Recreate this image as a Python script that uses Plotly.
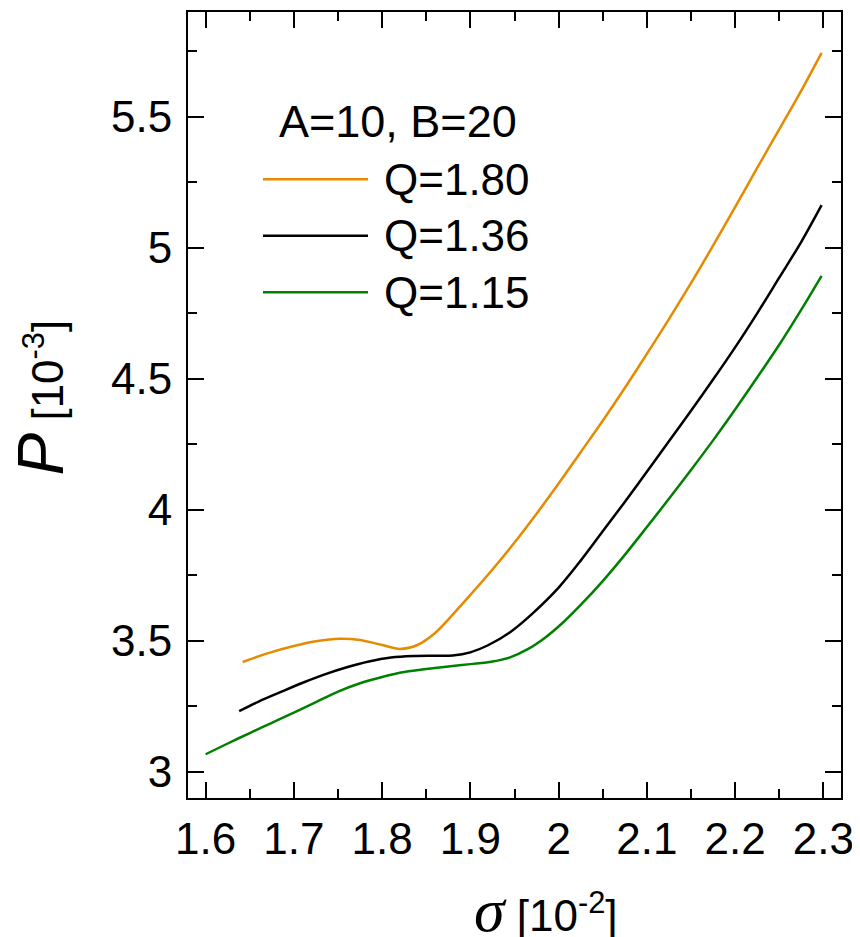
import plotly.graph_objects as go

# ---- data ----
x_q180 = [1.642, 1.670, 1.700, 1.725, 1.752, 1.775, 1.800, 1.820, 1.840, 1.860,
          1.880, 1.900, 1.925, 1.950, 1.975, 2.000, 2.025, 2.050, 2.075, 2.100,
          2.125, 2.150, 2.175, 2.200, 2.225, 2.250, 2.275, 2.298]
y_q180 = [3.419, 3.452, 3.480, 3.498, 3.508, 3.503, 3.484, 3.469, 3.484, 3.530,
          3.600, 3.675, 3.772, 3.875, 3.985, 4.100, 4.220, 4.340, 4.465, 4.595,
          4.728, 4.865, 5.008, 5.155, 5.305, 5.452, 5.600, 5.744]

x_q136 = [1.638, 1.660, 1.684, 1.710, 1.735, 1.760, 1.785, 1.810, 1.835, 1.860,
          1.880, 1.900, 1.920, 1.945, 1.970, 2.000, 2.025, 2.050, 2.075, 2.100,
          2.125, 2.150, 2.175, 2.200, 2.225, 2.250, 2.275, 2.298]
y_q136 = [3.232, 3.268, 3.303, 3.340, 3.372, 3.399, 3.421, 3.436, 3.442, 3.443,
          3.444, 3.456, 3.483, 3.533, 3.603, 3.703, 3.806, 3.918, 4.030, 4.145,
          4.262, 4.378, 4.497, 4.620, 4.750, 4.886, 5.023, 5.163]

x_q115 = [1.600, 1.625, 1.650, 1.675, 1.700, 1.725, 1.750, 1.775, 1.800, 1.825,
          1.850, 1.875, 1.900, 1.925, 1.945, 1.965, 1.985, 2.005, 2.025, 2.050,
          2.075, 2.100, 2.125, 2.150, 2.175, 2.200, 2.225, 2.250, 2.275, 2.298]
y_q115 = [3.067, 3.108, 3.148, 3.187, 3.226, 3.266, 3.306, 3.338, 3.362, 3.381,
          3.392, 3.402, 3.411, 3.421, 3.437, 3.468, 3.513, 3.570, 3.637, 3.728,
          3.828, 3.934, 4.042, 4.152, 4.265, 4.383, 4.505, 4.630, 4.764, 4.893]

series_names = ["Q=1.80", "Q=1.36", "Q=1.15"]
series_colors = ["#E68A00", "#000000", "#008000"]
legend_title = "A=10, B=20"

FONT = "Liberation Sans, Arial, sans-serif"

fig = go.Figure()
for xs, ys, name, col in zip([x_q180, x_q136, x_q115], [y_q180, y_q136, y_q115],
                             series_names, series_colors):
    fig.add_trace(go.Scatter(x=xs, y=ys, mode="lines", name=name,
                             line=dict(color=col, width=2.5, shape="spline", smoothing=0.9),
                             showlegend=False))

axis_common = dict(showline=True, linecolor="black", linewidth=2, mirror="allticks",
                   ticks="inside", ticklen=16, tickwidth=2, tickcolor="black",
                   showgrid=False, zeroline=False, automargin=False,
                   tickfont=dict(family=FONT, size=44, color="black"))

fig.update_xaxes(range=[1.58, 2.32], dtick=0.1, tick0=1.6, ticklabelstandoff=1,
                 minor=dict(dtick=0.05, ticks="inside", ticklen=9, tickwidth=2, tickcolor="black"),
                 **axis_common)
fig.update_yaxes(range=[2.9, 5.9], dtick=0.5, tick0=3, ticklabelstandoff=5,
                 minor=dict(dtick=0.25, ticks="inside", ticklen=9, tickwidth=2, tickcolor="black"),
                 **axis_common)

# the page body adds an 8px offset; size the figure so the plot box lands
# at screen px x 188..841, y 12..798
OFF = 8
W, H = 860 - OFF, 937 - OFF
L, R, T, B = 188 - OFF, 19, 12 - OFF, 139
pw, ph = W - L - R, H - T - B

def px(xs):
    return (xs - OFF - L) / pw

def py(ys):
    return (H - B - (ys - OFF)) / ph

# legend (manual)
ann = [dict(x=px(397.5), y=py(121.7), xref="paper", yref="paper", text=legend_title,
            showarrow=False, xanchor="center", yanchor="middle",
            font=dict(family=FONT, size=45, color="black"))]
shapes = []
for i, (name, col) in enumerate(zip(series_names, series_colors)):
    yy = [179.3, 235.7, 292.3][i]
    shapes.append(dict(type="line", xref="paper", yref="paper",
                       x0=px(263), x1=px(368), y0=py(yy), y1=py(yy),
                       line=dict(color=col, width=2.5)))
    ann.append(dict(x=px(381.7), y=py(yy), xref="paper", yref="paper", text=name,
                    showarrow=False, xanchor="left", yanchor="middle",
                    font=dict(family=FONT, size=44, color="black")))

# axis titles
ann.append(dict(x=px(546), y=py(910), xref="paper", yref="paper",
                text="<span style='font-family:Liberation Serif;font-size:62px'><i>σ</i></span> [10<sup>-2</sup>]",
                showarrow=False, xanchor="center", yanchor="middle",
                font=dict(family=FONT, size=44, color="black")))
ann.append(dict(x=px(40), y=py(397.5), xref="paper", yref="paper", textangle=-90,
                text="<span style='font-size:64px'><i>P</i></span> [10<sup>-3</sup>]",
                showarrow=False, xanchor="center", yanchor="middle",
                font=dict(family=FONT, size=44, color="black")))

fig.update_layout(width=W, height=H, margin=dict(l=L, r=R, t=T, b=B),
                  plot_bgcolor="white", paper_bgcolor="white",
                  annotations=ann, shapes=shapes)

fig.write_html("out.html")
